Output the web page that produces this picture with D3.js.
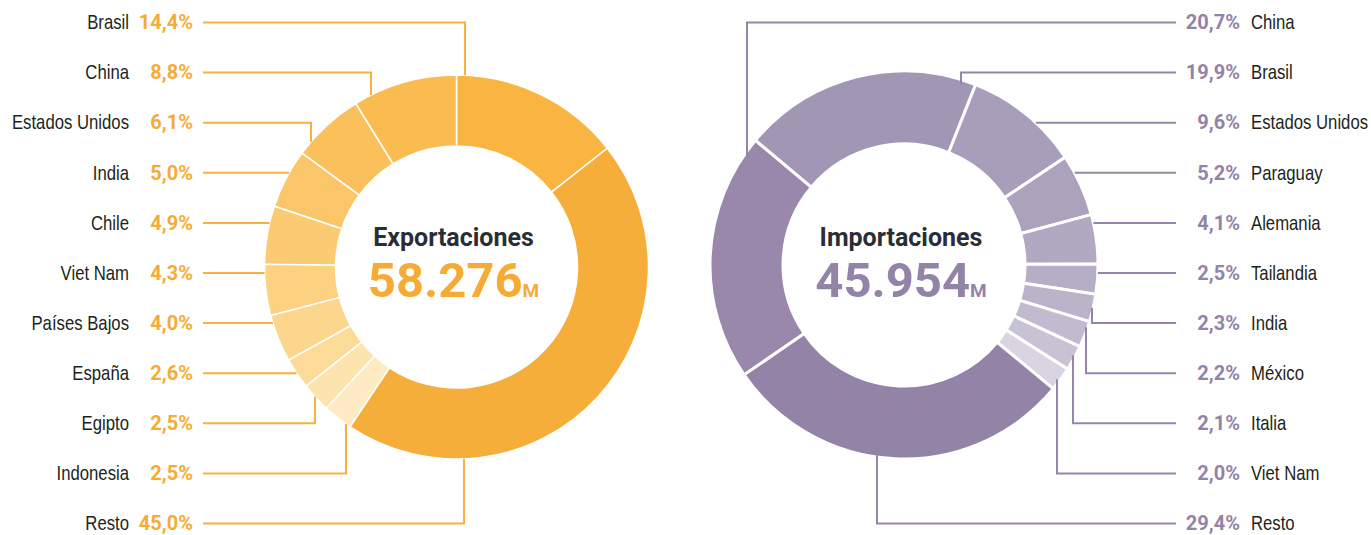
<!DOCTYPE html>
<html>
<head>
<meta charset="utf-8">
<script src="https://cdn.jsdelivr.net/npm/d3@7"></script>
<style>
body { margin: 0; background: #fff; }
.name { font-family: "Liberation Sans", Arial, sans-serif; font-size: 20px; fill: #231f20; }
.pct { font-family: Roboto, sans-serif; font-weight: 700; font-size: 20px; }
.title { font-family: Roboto, sans-serif; font-weight: 700; font-size: 25px; fill: #2b2d34; }
.total { font-family: Roboto, sans-serif; font-weight: 700; font-size: 49px; }
</style>
</head>
<body>
<div id="chart"></div>
<script>
// exportaciones
const expCategories = ["Brasil", "China", "Estados Unidos", "India", "Chile", "Viet Nam", "Países Bajos", "España", "Egipto", "Indonesia", "Resto"];
const expValues = [14.4, 8.8, 6.1, 5.0, 4.9, 4.3, 4.0, 2.6, 2.5, 2.5, 45.0];
const expTotal = 58276;
const expColors = ["#f9b441", "#fabc4e", "#fac05b", "#fbc669", "#fbcb74", "#fcd180", "#fcd68c", "#fcdb99", "#fde3ad", "#feebc3", "#f6ae3a"];

// importaciones
const impCategories = ["China", "Brasil", "Estados Unidos", "Paraguay", "Alemania", "Tailandia", "India", "México", "Italia", "Viet Nam", "Resto"];
const impValues = [20.7, 19.9, 9.6, 5.2, 4.1, 2.5, 2.3, 2.2, 2.1, 2.0, 29.4];
const impTotal = 45954;
const impColors = ["#9988ab", "#a196b4", "#a89eb9", "#aca2bc", "#b1a8c2", "#b6aec6", "#bbb3ca", "#c1bbd0", "#c7c2d4", "#d8d4e1", "#9383a7"];

// leader elbows (null = straight line to the ring)
const expElbowX = [465, 371, 311, null, null, null, null, null, 315, 346, 464];
const impElbowX = [747, 961, null, null, null, null, 1092, 1086, 1073, 1057, 877];

const width = 1371, height = 535;
const narrow = 0.836; // squeeze regular text to a condensed look
const es = d3.formatLocale({decimal: ",", thousands: ".", grouping: [3], currency: ["", ""]});
const fmtPct = v => es.format(".1f")(v) + "%";
const fmtTotal = es.format(",.0f");

const svg = d3.select("#chart").append("svg")
    .attr("width", width).attr("height", height)
    .attr("viewBox", [0, 0, width, height]);

const rowY = d3.scalePoint().domain(d3.range(11)).range([22, 523]);

function donut(opt) {
    const pie = d3.pie().sort(null).value(d => d)
        .startAngle(opt.start).endAngle(opt.start + opt.dir * 2 * Math.PI);
    const arc = d3.arc().innerRadius(opt.r0).outerRadius(opt.r1);
    const color = d3.scaleOrdinal(opt.categories, opt.colors);

    const g = svg.append("g").attr("transform", `translate(${opt.cx},${opt.cy})`);
    g.selectAll("path")
        .data(pie(opt.values))
        .join("path")
        .attr("d", arc)
        .attr("fill", (d, i) => color(opt.categories[i]))
        .attr("stroke", "#fff")
        .attr("stroke-width", opt.gap);

    // center
    g.append("text").attr("class", "title")
        .attr("text-anchor", "middle").attr("x", -3).attr("y", 245.7 - opt.cy)
        .text(opt.title);
    const t = g.append("text").attr("class", "total")
        .attr("text-anchor", "middle").attr("x", -3).attr("y", 296.7 - opt.cy)
        .attr("fill", opt.accent);
    t.append("tspan").text(fmtTotal(opt.total));
    t.append("tspan").attr("font-size", 19).text("M");

    // leaders
    const side = opt.side;
    const lines = svg.append("g")
        .attr("fill", "none")
        .attr("stroke", opt.lineColor)
        .attr("stroke-width", 2);
    opt.categories.forEach((c, i) => {
        const y = rowY(i) + 0.5;
        const ex = opt.elbow[i];
        let p;
        if (ex == null) {
            const dx = Math.sqrt(opt.r1 * opt.r1 - (y - opt.cy) * (y - opt.cy));
            p = `M${opt.lineX},${y}H${opt.cx + side * dx}`;
        } else {
            const dy = Math.sqrt(opt.r1 * opt.r1 - (ex - opt.cx) * (ex - opt.cx));
            const s = y < opt.cy ? -1 : 1;
            p = `M${opt.lineX},${y}H${ex}V${opt.cy + s * (dy - opt.inset)}`;
        }
        lines.append("path").attr("d", p);
    });

    // labels
    const lab = svg.append("g");
    lab.selectAll(".name")
        .data(opt.categories)
        .join("text")
        .attr("class", "name")
        .attr("transform", (d, i) => `translate(${opt.nameX},${rowY(i)}) scale(${narrow},1)`)
        .attr("dy", "0.36em")
        .attr("text-anchor", side < 0 ? "end" : "start")
        .text(d => d);
    lab.selectAll(".pct")
        .data(opt.values)
        .join("text")
        .attr("class", "pct")
        .attr("x", opt.pctX)
        .attr("y", (d, i) => rowY(i))
        .attr("dy", "0.36em")
        .attr("text-anchor", "end")
        .attr("fill", opt.accent)
        .text(d => fmtPct(d));
}

donut({
    categories: expCategories, values: expValues, colors: expColors, total: expTotal,
    title: "Exportaciones",
    start: expValues[0] / d3.sum(expValues) * 2 * Math.PI, dir: -1,
    cx: 456.5, cy: 267, r0: 121, r1: 192, gap: 1.5,
    accent: "#f7ab37", lineColor: "#f8b13e",
    side: -1, lineX: 203, nameX: 129, pctX: 193, elbow: expElbowX, inset: 0
});

donut({
    categories: impCategories, values: impValues, colors: impColors, total: impTotal,
    title: "Importaciones",
    start: -124.5 * Math.PI / 180, dir: 1,
    cx: 904, cy: 265, r0: 121, r1: 194, gap: 3,
    accent: "#9383a7", lineColor: "#9585a8",
    side: 1, lineX: 1176, nameX: 1251, pctX: 1240, elbow: impElbowX, inset: 5
});
</script>
</body>
</html>
